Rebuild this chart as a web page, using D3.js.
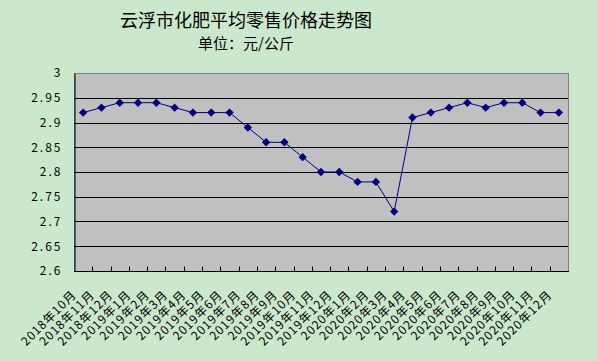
<!DOCTYPE html>
<html>
<head>
<meta charset="utf-8">
<script src="https://cdn.jsdelivr.net/npm/d3@7"></script>
<style>
body { margin: 0; background: #cce8cc; }
text { font-family: "Noto Sans CJK SC", sans-serif; }
</style>
</head>
<body>
<div id="chart"></div>
<script>
// month labels along the x axis
var months = ["2018年10月","2018年11月","2018年12月",
	"2019年1月","2019年2月","2019年3月","2019年4月","2019年5月","2019年6月",
	"2019年7月","2019年8月","2019年9月","2019年10月","2019年11月","2019年12月",
	"2020年1月","2020年2月","2020年3月","2020年4月","2020年5月","2020年6月",
	"2020年7月","2020年8月","2020年9月","2020年10月","2020年11月","2020年12月"];
// average retail price, yuan per kg
var prices = [2.92,2.93,2.94,2.94,2.94,2.93,2.92,2.92,2.92,2.89,2.86,2.86,2.83,2.80,2.80,
	2.78,2.78,2.72,2.91,2.92,2.93,2.94,2.93,2.94,2.94,2.92,2.92];
var yTicks = [2.6,2.65,2.7,2.75,2.8,2.85,2.9,2.95,3];

var w = 598, h = 361;
var plotLeft = 74, plotRight = 568, plotTop = 73, plotBottom = 271;

var svg = d3.select("#chart").append("svg")
	.attr("width", w)
	.attr("height", h);

svg.append("rect").attr("width", w).attr("height", h).attr("fill", "#cce8cc");

// titles
svg.append("text")
	.attr("x", 246).attr("y", 27)
	.attr("text-anchor", "middle")
	.attr("font-size", 18)
	.text("云浮市化肥平均零售价格走势图");
svg.append("text")
	.attr("x", 246).attr("y", 49)
	.attr("text-anchor", "middle")
	.attr("font-size", 15)
	.text("单位：元/公斤");

var x = d3.scaleBand().domain(months).range([plotLeft, plotRight]);
var y = d3.scaleLinear().domain([2.6, 3]).range([plotBottom, plotTop]);

// plot area
svg.append("rect")
	.attr("x", plotLeft + 0.5).attr("y", plotTop + 0.5)
	.attr("width", plotRight - plotLeft).attr("height", plotBottom - plotTop)
	.attr("fill", "#c0c0c0")
	.attr("stroke", "#808080");

// grid lines
svg.selectAll("line.grid")
	.data(yTicks.slice(1, -1)).enter().append("line")
	.attr("class", "grid")
	.attr("x1", plotLeft).attr("x2", plotRight)
	.attr("y1", function(d) { return Math.round(y(d)) + 0.5; })
	.attr("y2", function(d) { return Math.round(y(d)) + 0.5; })
	.attr("stroke", "#000");

// y axis
var yAxis = svg.append("g")
	.attr("transform", "translate(" + (plotLeft + 0.5) + ",0)")
	.call(d3.axisLeft(y).tickValues(yTicks).tickSize(0).tickPadding(12)
		.tickFormat(function(d) { return String(+d.toFixed(2)); }));
yAxis.select(".domain").attr("stroke", "#000");
yAxis.selectAll("text").attr("font-size", 12).attr("fill", "#000")
	.attr("font-family", "\"Noto Sans CJK SC\", sans-serif")
	.style("letter-spacing", "2px");

// x axis, ticks between categories pointing up
var xAxis = svg.append("g")
	.attr("transform", "translate(0," + (plotBottom + 0.5) + ")");
xAxis.append("line")
	.attr("x1", plotLeft).attr("x2", plotRight + 1)
	.attr("stroke", "#000");
xAxis.selectAll("line.tick")
	.data(months.slice(1)).enter().append("line")
	.attr("class", "tick")
	.attr("x1", function(d) { return Math.round(x(d)) + 0.5; })
	.attr("x2", function(d) { return Math.round(x(d)) + 0.5; })
	.attr("y1", 0).attr("y2", -5)
	.attr("stroke", "#000");
xAxis.selectAll("text")
	.data(months).enter().append("text")
	.attr("transform", function(d) {
		return "translate(" + (x(d) + x.bandwidth() / 2 - 6) + ",24) rotate(-45)";
	})
	.attr("text-anchor", "end")
	.attr("font-size", 12)
	.attr("fill", "#000")
	.style("letter-spacing", "1px")
	.text(function(d) { return d; });

// line and diamond markers
var line = d3.line()
	.x(function(d, i) { return x(months[i]) + x.bandwidth() / 2; })
	.y(function(d) { return y(d); });
svg.append("path")
	.datum(prices)
	.attr("d", line)
	.attr("fill", "none")
	.attr("stroke", "#000080")
	.attr("stroke-width", 1);

svg.selectAll("path.marker")
	.data(prices).enter().append("path")
	.attr("class", "marker")
	.attr("transform", function(d, i) { return "translate(" + (x(months[i]) + x.bandwidth() / 2) + "," + y(d) + ")"; })
	.attr("d", d3.symbol().type(d3.symbolDiamond2).size(45))
	.attr("fill", "#000080");
</script>
</body>
</html>
